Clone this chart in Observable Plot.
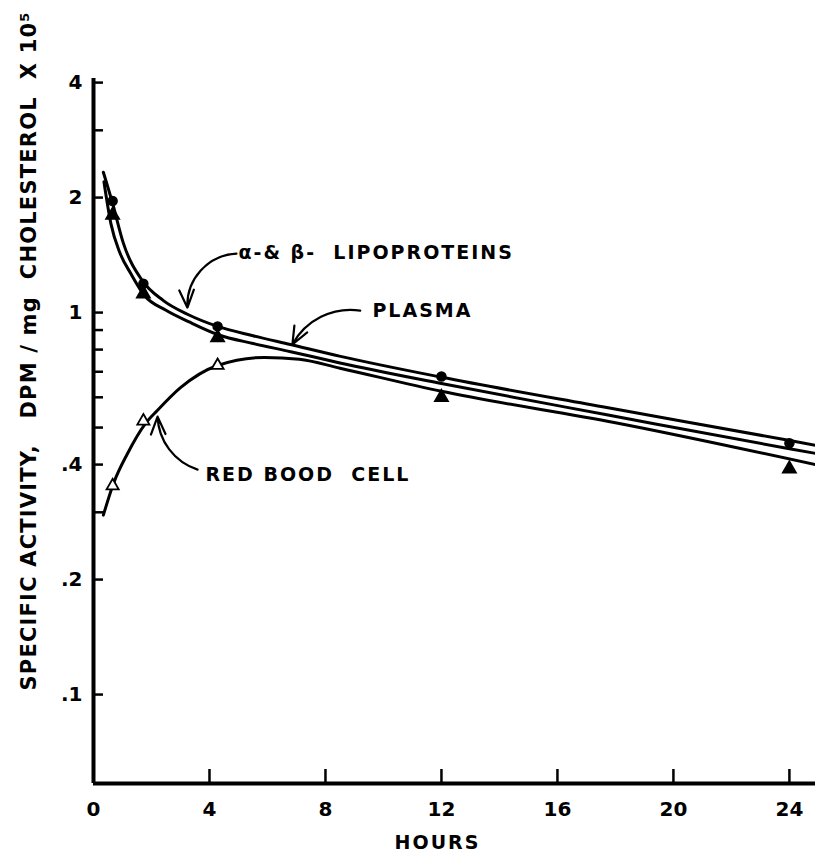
<!DOCTYPE html>
<html><head><meta charset="utf-8">
<script src="https://cdn.jsdelivr.net/npm/d3@7"></script>
<script src="https://cdn.jsdelivr.net/npm/@observablehq/plot@0.6"></script>
<style>body{margin:0;background:#fff} svg{display:block}</style>
</head><body><div id="chart"></div>
<script>
// ---- data ----
const lipoHours = [0.34, 0.66, 1.03, 1.69, 2.41, 3.24, 4.28, 5.5, 6.79, 8.52, 11.97, 17.7, 23.97, 24.9];
const lipoValues = [2.33, 1.93, 1.52, 1.21, 1.075, 0.99, 0.92, 0.87, 0.825, 0.768, 0.678, 0.564, 0.463, 0.449];
const plasmaHours = [0.36, 0.6, 0.9, 1.3, 1.75, 2.5, 3.3, 4.3, 5.5, 6.8, 8.5, 12, 17.7, 24, 24.9];
const plasmaValues = [2.2, 1.71, 1.44, 1.26, 1.11, 1.014, 0.945, 0.875, 0.83, 0.79, 0.738, 0.652, 0.54, 0.44, 0.428];
const rbcHours = [0.34, 0.69, 1.17, 1.79, 2.2, 3.0, 4.28, 5.9, 7.1, 8.5, 12, 18, 24.9];
const rbcValues = [0.295, 0.357, 0.427, 0.512, 0.554, 0.636, 0.727, 0.763, 0.755, 0.715, 0.622, 0.515, 0.40];

const sampleHours = [0.66, 1.72, 4.28, 12, 24];
const lipoPoints = [1.96, 1.19, 0.92, 0.68, 0.455];
const plasmaPoints = [1.80, 1.12, 0.86, 0.60, 0.39];
const rbcSampleHours = [0.66, 1.72, 4.28];
const rbcPoints = [0.352, 0.52, 0.727];

const xTickValues = [4, 8, 12, 16, 20, 24];
const xLabelValues = [0, 4, 8, 12, 16, 20, 24];
const yTickValues = [4, 3, 2, 1, 0.9, 0.8, 0.7, 0.6, 0.5, 0.4, 0.3, 0.2, 0.1];
const yLabelValues = [4, 2, 1, 0.8, 0.6, 0.4, 0.2, 0.1];
const yLabelTexts = ["4", "2", "1", ".8", ".6", ".4", ".2", ".1"];

const labelTexts = ["\u03b1-& \u03b2-  LIPOPROTEINS", "PLASMA", "RED BOOD  CELL"];
const labelHours = [5.0, 9.62, 3.86];
const labelValues = [1.436, 1.012, 0.375];
// annotation arrows: tail (hour, value), head (hour, value), bend
const lipoArrow = {x1: 4.93, y1: 1.427, x2: 3.24, y2: 1.03, bend: -45};
const plasmaArrow = {x1: 9.2, y1: 1.012, x2: 6.86, y2: 0.825, bend: -35};
const rbcArrow = {x1: 3.59, y1: 0.388, x2: 2.21, y2: 0.534, bend: 35};

const yTitle = "SPECIFIC ACTIVITY,   DPM / mg  CHOLESTEROL  X 10\u2075";
const xTitle = "HOURS";

// ---- build tables ----
const toRows = (xs, ys) => xs.map((x, i) => ({x, y: ys[i]}));
const lipo = toRows(lipoHours, lipoValues);
const plasma = toRows(plasmaHours, plasmaValues);
const rbc = toRows(rbcHours, rbcValues);
const lipoPts = toRows(sampleHours, lipoPoints);
const plasmaPts = toRows(sampleHours, plasmaPoints);
const rbcPts = toRows(rbcSampleHours, rbcPoints);
const labels = labelTexts.map((t, i) => ({t, x: labelHours[i], y: labelValues[i]}));
const yFmt = new Map(yLabelValues.map((v, i) => [v, yLabelTexts[i]]));

const FONT = '"DejaVu Sans", "Liberation Sans", sans-serif';
const yMin = 0.0585, yMax = 4.1;

const arrowMark = (a) => Plot.arrow([a], {x1: "x1", y1: "y1", x2: "x2", y2: "y2", bend: a.bend,
  stroke: "black", strokeWidth: 2.2, headLength: 13, headAngle: 45});

const chart = Plot.plot({
  width: 815, height: 861,
  marginLeft: 93, marginRight: 0, marginTop: 78, marginBottom: 78,
  style: {fontFamily: FONT, fontWeight: "bold", color: "black", background: "white"},
  x: {domain: [0, 24.9], axis: null},
  y: {type: "log", domain: [yMin, yMax], axis: null},
  marks: [
    Plot.axisX({ticks: xTickValues, tickSize: -14, strokeWidth: 2.5, tickFormat: () => ""}),
    Plot.axisX({ticks: xLabelValues, tickSize: 0, tickPadding: 18, fontSize: 20, tickFormat: d => String(d)}),
    Plot.axisY({ticks: yTickValues, tickSize: -10, strokeWidth: 2.5, tickFormat: () => ""}),
    Plot.axisY({ticks: yLabelValues, tickSize: 0, tickPadding: 11, fontSize: 20, tickFormat: d => yFmt.get(d)}),
    Plot.ruleX([0], {stroke: "black", strokeWidth: 4}),
    Plot.ruleY([yMin], {stroke: "black", strokeWidth: 4}),
    Plot.line(lipo, {x: "x", y: "y", curve: "monotone-x", stroke: "black", strokeWidth: 3}),
    Plot.line(plasma, {x: "x", y: "y", curve: "monotone-x", stroke: "black", strokeWidth: 3}),
    Plot.line(rbc, {x: "x", y: "y", curve: "monotone-x", stroke: "black", strokeWidth: 3}),
    Plot.dot(lipoPts, {x: "x", y: "y", r: 4.5, fill: "black", stroke: "black"}),
    Plot.dot(plasmaPts, {x: "x", y: "y", r: 5, symbol: "triangle", fill: "black", stroke: "black"}),
    Plot.dot(rbcPts, {x: "x", y: "y", r: 4.5, symbol: "triangle", fill: "white", stroke: "black", strokeWidth: 1.8}),
    arrowMark(lipoArrow),
    arrowMark(plasmaArrow),
    arrowMark(rbcArrow),
    Plot.text(labels, {x: "x", y: "y", text: "t", textAnchor: "start", fontSize: 19, fontWeight: "bold", fill: "black"}),
    Plot.text([xTitle], {frameAnchor: "bottom", dx: -17, dy: 65, fontSize: 19, fontWeight: "bold", fill: "black"}),
    Plot.text([yTitle], {frameAnchor: "left", textAnchor: "middle", dx: -64, dy: -79.5, rotate: -90, fontSize: 21, fontWeight: "bold", fill: "black"})
  ]
});
document.getElementById("chart").appendChild(chart);

// letter spacing of the hand-lettered annotations
const svg = d3.select(chart);
svg.selectAll("text").each(function() {
  const t = this.textContent;
  if (labelTexts.includes(t) || t === xTitle) d3.select(this).style("letter-spacing", "2px");
  if (t === yTitle) d3.select(this).attr("textLength", 678).attr("lengthAdjust", "spacing");
});
</script></body></html>
